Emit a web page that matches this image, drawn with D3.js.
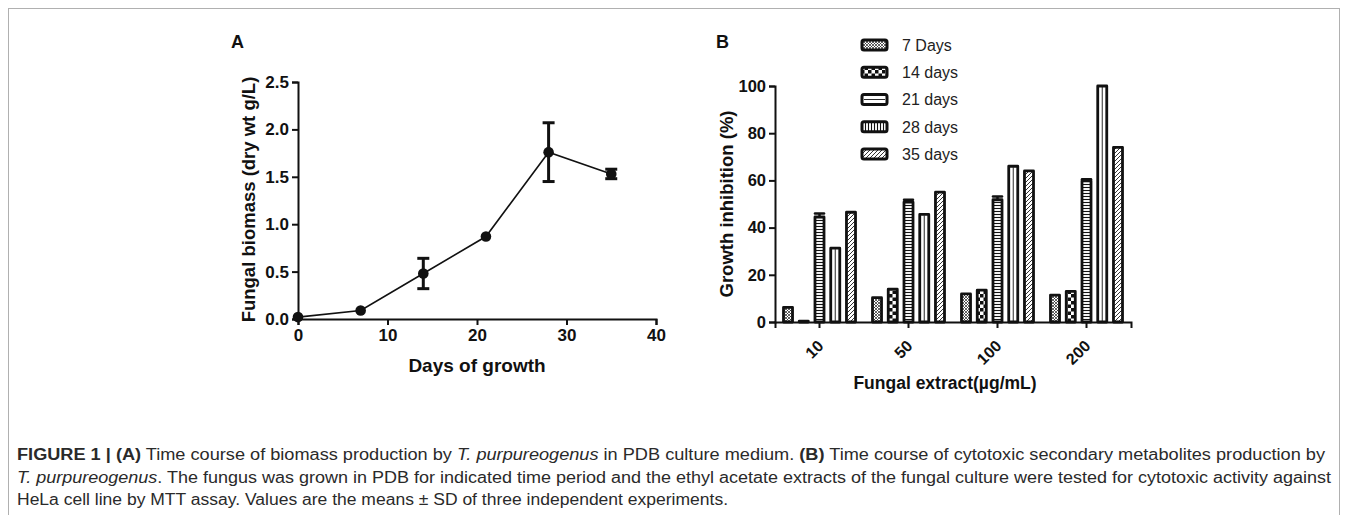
<!DOCTYPE html>
<html><head><meta charset="utf-8">
<script src="https://cdn.jsdelivr.net/npm/d3@7"></script>
<style>
html,body{margin:0;padding:0;background:#fff;}
svg{display:block;}
text{font-family:"Liberation Sans",Arial,Helvetica,sans-serif;}
</style></head>
<body><svg id="c" width="1348" height="515"></svg>
<script>
// ---------- Data: panel A ----------
const daysA = [0, 7, 14, 21, 28, 35];
const biomass = [0.02, 0.09, 0.48, 0.87, 1.76, 1.53];
const biomassSD = [0.01, 0.01, 0.16, 0.02, 0.31, 0.05];
const xTicksA = [0, 10, 20, 30, 40];
const yTicksA = [0, 0.5, 1.0, 1.5, 2.0, 2.5];

// ---------- Data: panel B ----------
const concentrations = ["10", "50", "100", "200"];
const seriesNames = ["7 Days", "14 days", "21 days", "28 days", "35 days"];
const v7 = [6.2, 10.3, 11.9, 11.4];
const v14 = [0.4, 13.9, 13.5, 13.0];
const v21 = [31.3, 45.6, 66.0, 100.0];
const v28 = [44.5, 50.8, 51.8, 59.8];
const v28sd = [1.5, 1.0, 1.4, 0.7];
const v35 = [46.5, 55.0, 64.0, 74.0];
const barOrder = ["7 Days", "14 days", "28 days", "21 days", "35 days"];
const yTicksB = [0, 20, 40, 60, 80, 100];

const seriesValues = {"7 Days": v7, "14 days": v14, "21 days": v21, "28 days": v28, "35 days": v35};
const seriesSD = {"28 days": v28sd};

const svg = d3.select("#c");

// frame
svg.append("rect").attr("x", 8.5).attr("y", 8.5).attr("width", 1331).attr("height", 530)
  .attr("fill", "none").attr("stroke", "#b0b0b0").attr("stroke-width", 1);

// patterns
const defs = svg.append("defs");
function pat(id, w, h, build) {
  const p = defs.append("pattern").attr("id", id).attr("patternUnits", "userSpaceOnUse")
    .attr("width", w).attr("height", h);
  p.append("rect").attr("width", w).attr("height", h).attr("fill", "#fff");
  build(p);
}
pat("p7", 3, 3, p => p.append("path").attr("d", "M0,0L3,3M3,0L0,3").attr("stroke", "#222").attr("stroke-width", 0.7));
pat("p14", 7, 7, p => { p.append("rect").attr("width", 3.5).attr("height", 3.5).attr("fill", "#111");
  p.append("rect").attr("x", 3.5).attr("y", 3.5).attr("width", 3.5).attr("height", 3.5).attr("fill", "#111"); });
pat("pH", 4, 3, p => p.append("path").attr("d", "M0,1.5H4").attr("stroke", "#111").attr("stroke-width", 1.1));
pat("pV", 3, 4, p => p.append("path").attr("d", "M1.5,0V4").attr("stroke", "#111").attr("stroke-width", 1.1));
pat("p35", 4, 4, p => p.append("path").attr("d", "M-1,5L5,-1M-1,1L1,-1M3,5L5,3").attr("stroke", "#333").attr("stroke-width", 1));
pat("pW", 4, 4, p => {});

const barFill = {"7 Days": "url(#p7)", "14 days": "url(#p14)", "21 days": "url(#pW)", "28 days": "url(#pH)", "35 days": "url(#p35)"};
const legendFill = {"7 Days": "url(#p7)", "14 days": "url(#p14)", "21 days": "url(#pW)", "28 days": "url(#pV)", "35 days": "url(#p35)"};

function styleAxis(g, fs) {
  g.selectAll(".domain").attr("stroke", "#111").attr("stroke-width", 2);
  g.selectAll(".tick line").attr("stroke", "#111").attr("stroke-width", 2);
  g.selectAll(".tick text").attr("fill", "#111").style("font-size", fs + "px").style("font-weight", "bold")
    .style("font-family", '"Liberation Sans",Arial,sans-serif');
}

// ---------- Panel A ----------
const xA = d3.scaleLinear().domain([0, 40]).range([298, 656]);
const yA = d3.scaleLinear().domain([0, 2.5]).range([319, 82]);

const gxA = svg.append("g").attr("transform", `translate(0,${yA(0)})`)
  .call(d3.axisBottom(xA).tickValues(xTicksA).tickSizeOuter(0).tickSize(6).tickPadding(4));
styleAxis(gxA, 17);
const gyA = svg.append("g").attr("transform", `translate(${xA(0)},0)`)
  .call(d3.axisLeft(yA).tickValues(yTicksA).tickFormat(d3.format(".1f")).tickSizeOuter(0).tickSize(6).tickPadding(3));
styleAxis(gyA, 17);

const ptsA = daysA.map((d, i) => ({x: d, y: biomass[i], sd: biomassSD[i]}));
svg.append("path").datum(ptsA).attr("fill", "none").attr("stroke", "#111").attr("stroke-width", 1.6)
  .attr("d", d3.line().x(d => xA(d.x)).y(d => yA(d.y)));
const eb = svg.append("g").attr("stroke", "#111").attr("stroke-width", 3);
ptsA.filter(d => d.sd > 0.04).forEach(d => {
  const cx = xA(d.x);
  eb.append("line").attr("x1", cx).attr("x2", cx).attr("y1", yA(d.y - d.sd)).attr("y2", yA(d.y + d.sd));
  eb.append("line").attr("x1", cx - 6).attr("x2", cx + 6).attr("y1", yA(d.y + d.sd)).attr("y2", yA(d.y + d.sd));
  eb.append("line").attr("x1", cx - 6).attr("x2", cx + 6).attr("y1", yA(d.y - d.sd)).attr("y2", yA(d.y - d.sd));
});
svg.append("g").selectAll("circle").data(ptsA).join("circle")
  .attr("cx", d => xA(d.x)).attr("cy", d => yA(d.y)).attr("r", 5.3).attr("fill", "#111");

svg.append("text").attr("x", 231).attr("y", 48).style("font-weight", "bold").style("font-size", "18px").attr("fill", "#111").text("A");
svg.append("text").attr("transform", `translate(255,${(yA(0) + yA(2.5)) / 2 - 1}) rotate(-90)`).attr("text-anchor", "middle")
  .style("font-weight", "bold").style("font-size", "18.5px").attr("fill", "#111").text("Fungal biomass (dry wt g/L)");
svg.append("text").attr("x", 477).attr("y", 372).attr("text-anchor", "middle")
  .style("font-weight", "bold").style("font-size", "19px").attr("fill", "#111").text("Days of growth");

// ---------- Panel B ----------
const x0 = d3.scaleBand().domain(concentrations).range([775, 1131]);
const x1 = d3.scaleBand().domain(barOrder).range([-37, 37]).paddingInner(0.3);
const yB = d3.scaleLinear().domain([0, 100]).range([322, 86]);

const gB = svg.append("g");
concentrations.forEach((c, ci) => {
  const cx = x0(c) + x0.bandwidth() / 2;
  barOrder.forEach(s => {
    const v = seriesValues[s][ci];
    const bx = cx + x1(s) + 1, bw = x1.bandwidth() - 2;
    if (seriesSD[s]) {
      const sd = seriesSD[s][ci];
      gB.append("line").attr("x1", bx + bw / 2).attr("x2", bx + bw / 2).attr("y1", yB(v)).attr("y2", yB(v + sd))
        .attr("stroke", "#111").attr("stroke-width", 2.5);
      gB.append("line").attr("x1", bx).attr("x2", bx + bw).attr("y1", yB(v + sd)).attr("y2", yB(v + sd))
        .attr("stroke", "#111").attr("stroke-width", 2.5).attr("stroke-linecap", "round");
    }
    gB.append("rect").attr("x", bx).attr("y", yB(v)).attr("width", bw).attr("height", yB(0) - yB(v))
      .attr("fill", barFill[s]).attr("stroke", "#111").attr("stroke-width", 2.8).attr("stroke-linejoin", "round");
    if (s === "21 days") {
      gB.append("line").attr("x1", bx + bw / 2).attr("x2", bx + bw / 2).attr("y1", yB(v) + 1).attr("y2", yB(0))
        .attr("stroke", "#111").attr("stroke-width", 0.9);
    }
  });
});

const gxB = svg.append("g").attr("transform", `translate(0,${yB(0)})`)
  .call(d3.axisBottom(x0).tickSizeOuter(0).tickSize(6));
styleAxis(gxB, 16);
gxB.selectAll(".tick text").attr("y", 0).attr("dy", "0.35em").attr("text-anchor", "end")
  .attr("transform", "translate(1,21) rotate(-45)");
const gyB = svg.append("g").attr("transform", `translate(${x0.range()[0]},0)`)
  .call(d3.axisLeft(yB).tickValues(yTicksB).tickSizeOuter(0).tickSize(6).tickPadding(3));
styleAxis(gyB, 16.5);

svg.append("text").attr("x", 716).attr("y", 48).style("font-weight", "bold").style("font-size", "18px").attr("fill", "#111").text("B");
svg.append("text").attr("transform", `translate(733,${(yB(0) + yB(100)) / 2}) rotate(-90)`).attr("text-anchor", "middle")
  .style("font-weight", "bold").style("font-size", "18.5px").attr("fill", "#111").text("Growth inhibition (%)");
svg.append("text").attr("x", 945).attr("y", 389).attr("text-anchor", "middle")
  .style("font-weight", "bold").style("font-size", "17.5px").attr("fill", "#111").text("Fungal extract(\u00b5g/mL)");

// legend
const lg = svg.append("g");
const ly = d3.scalePoint().domain(seriesNames).range([45, 154]);
seriesNames.forEach(s => {
  const y = ly(s);
  lg.append("rect").attr("x", 862).attr("y", y - 5).attr("width", 25).attr("height", 10).attr("rx", 2)
    .attr("fill", legendFill[s]).attr("stroke", "#111").attr("stroke-width", 3);
  if (s === "21 days") lg.append("line").attr("x1", 864).attr("x2", 885).attr("y1", y).attr("y2", y)
    .attr("stroke", "#111").attr("stroke-width", 0.9);
  lg.append("text").attr("x", 902).attr("y", y).attr("dy", "0.36em").style("font-size", "16px").attr("fill", "#222").text(s);
});

// ---------- Caption ----------
const capLines = [
  [["FIGURE 1 | (A)", "b"], [" Time course of biomass production by ", ""], ["T. purpureogenus", "i"], [" in PDB culture medium. ", ""], ["(B)", "b"], [" Time course of cytotoxic secondary metabolites production by", ""]],
  [["T. purpureogenus", "i"], [". The fungus was grown in PDB for indicated time period and the ethyl acetate extracts of the fungal culture were tested for cytotoxic activity against", ""]],
  [["HeLa cell line by MTT assay. Values are the means \u00b1 SD of three independent experiments.", ""]]
];
const capWidths = [1308, 1314, 711];
const capY = [460, 483, 505];
capLines.forEach((ln, i) => {
  const t = svg.append("text").attr("x", 17).attr("y", capY[i]).style("font-size", "16px").attr("fill", "#2a2a2a");
  ln.forEach(([s, st]) => {
    const ts = t.append("tspan").text(s);
    if (st === "b") ts.style("font-weight", "bold");
    if (st === "i") ts.style("font-style", "italic");
  });
  t.attr("textLength", capWidths[i]).attr("lengthAdjust", "spacingAndGlyphs");
});
</script></body></html>
